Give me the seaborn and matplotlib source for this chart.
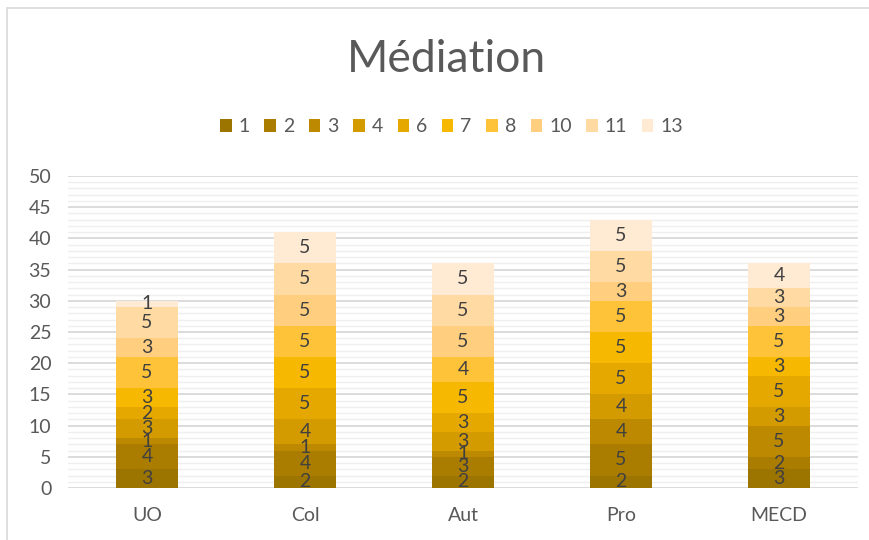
import matplotlib
matplotlib.use("Agg")
import matplotlib.pyplot as plt
from matplotlib.patches import Patch, Rectangle
import numpy as np
import pandas as pd
import seaborn as sns

categories = ["UO", "Col", "Aut", "Pro", "MECD"]
series = ["1", "2", "3", "4", "6", "7", "8", "10", "11", "13"]
# values per category, bottom to top (series order)
uo = [3, 4, 1, 3, 2, 3, 5, 3, 5, 1]
col = [2, 4, 1, 4, 5, 5, 5, 5, 5, 5]
aut = [2, 3, 1, 3, 3, 5, 4, 5, 5, 5]
pro = [2, 5, 4, 4, 5, 5, 5, 3, 5, 5]
mecd = [3, 2, 5, 3, 5, 3, 5, 3, 3, 4]
colors = ["#9c7400", "#aa7d00", "#bc8900", "#d39b00", "#e5a800",
          "#f6b800", "#ffc33a", "#ffcf7f", "#ffdba3", "#ffead3"]

TEXT = "#595959"
LABEL = "#404040"

sns.set_style("white")
plt.rcParams["font.family"] = ["Lato", "DejaVu Sans"]

values = np.array([uo, col, aut, pro, mecd], dtype=float)
cum = values.cumsum(axis=1)

fig = plt.figure(figsize=(8.7, 5.4), dpi=100)
ax = fig.add_axes([68 / 870, 1 - 488 / 540, 790 / 870, 312 / 540])

# minor + major grid
for y in range(0, 51):
    ax.axhline(y, color="#d9d9d9" if y % 5 == 0 else "#efefef",
               lw=1.3 if y % 5 == 0 else 1.0, zorder=0)

# stacked bars: draw cumulative totals from top series down
for j in range(len(series) - 1, -1, -1):
    df = pd.DataFrame({"cat": categories, "top": cum[:, j]})
    sns.barplot(data=df, x="cat", y="top", color=colors[j], width=0.39,
                saturation=1, ax=ax, zorder=2, linewidth=0)

for i in range(len(categories)):
    for j in range(len(series)):
        mid = cum[i, j] - values[i, j] / 2
        ax.text(i, mid, f"{int(values[i, j])}", ha="center", va="center",
                fontsize=14, color=LABEL, zorder=3)

ax.set_xlim(-0.5, 4.5)
ax.set_ylim(0, 50)
ax.set_yticks(range(0, 51, 5))
ax.set_xlabel("")
ax.set_ylabel("")
ax.tick_params(axis="both", length=0, labelsize=14, colors=TEXT)
ax.tick_params(axis="x", pad=14)
ax.tick_params(axis="y", pad=12)
sns.despine(ax=ax, left=True, bottom=True)

handles = [Patch(facecolor=c, edgecolor="none") for c in colors]
fig.legend(handles, series, loc="center", bbox_to_anchor=(0.519, 1 - 127 / 540),
           ncol=len(series), frameon=False, fontsize=14, labelcolor=TEXT,
           handlelength=0.6, handleheight=0.6, handletextpad=0.35,
           columnspacing=0.75)

fig.text(0.513, 1 - 60 / 540, "Médiation", ha="center", va="center",
         fontsize=32, color=TEXT)

fig.patches.append(Rectangle((7 / 870, -0.1), 1.0, 1 - 8 / 540 + 0.1,
                             transform=fig.transFigure, fill=False,
                             edgecolor="#d9d9d9", lw=1.2))

fig.savefig("out.png", dpi=100)
